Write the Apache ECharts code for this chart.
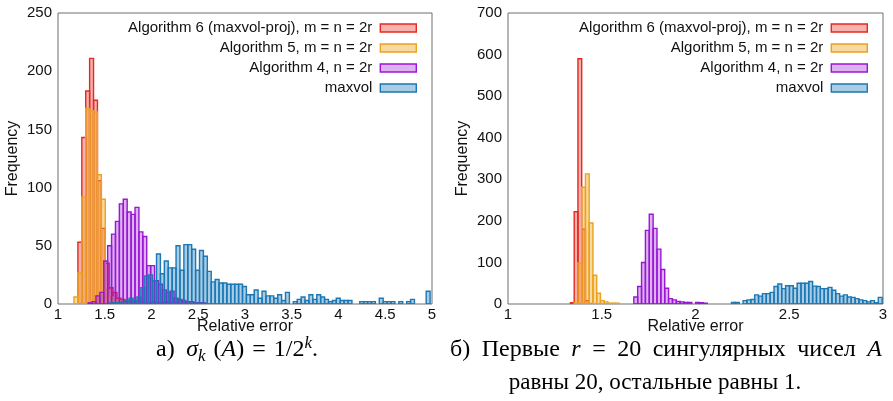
<!DOCTYPE html>
<html>
<head>
<meta charset="utf-8">
<script src="https://cdn.jsdelivr.net/npm/echarts@6/dist/echarts.min.js"></script>
<style>
  html, body { margin: 0; padding: 0; background: #fff; }
  #chart { width: 893px; height: 401px; }
</style>
</head>
<body>
<div id="chart"></div>
<script>
// ---- Histogram counts (bin start, bin width, counts per bin) ----
// (a) sigma_k(A) = 1/2^k
const aAlg6Start = 1.171, aAlg6Width = 0.0418;
const aAlg6Counts = [0, 53, 143, 183, 211, 175, 106, 65, 35, 14, 10, 5, 4, 3, 2, 2, 1, 2, 1, 1, 2, 1, 1, 2, 1, 0, 1, 0, 1];
const aAlg5Start = 1.171, aAlg5Width = 0.0418;
const aAlg5Counts = [6, 27, 92, 168, 166, 165, 111, 90, 12, 6, 4, 3, 2, 2, 1, 1, 1, 2, 1, 0, 1];
const aAlg4Start = 1.322, aAlg4Width = 0.0418;
const aAlg4Counts = [1, 2, 7, 10, 37, 50, 60, 71, 86, 90, 79, 77, 83, 62, 58, 33, 33, 20, 17, 12, 10, 11, 5, 4, 3, 2, 2, 1, 1, 1];
const aMaxvolStart = 1.552, aMaxvolWidth = 0.0418;
const aMaxvolCounts = [
  1, 1, 1, 2, 3, 5, 3, 6, 14, 24, 25, 20, 43, 26, 37, 31,
  31, 50, 29, 51, 51, 47, 29, 46, 41, 28, 19, 21, 18, 18, 17, 17,
  17, 17, 15, 8, 8, 12, 5, 11, 7, 7, 5, 8, 3, 10, 0, 2,
  4, 6, 3, 8, 4, 8, 6, 4, 2, 3, 5, 3, 3, 3, 0, 0,
  2, 2, 2, 2, 0, 5, 2, 2, 2, 0, 2, 0, 2, 4, 0, 0, 0, 11
];

// (b) first r = 20 singular values equal 20, the rest equal 1
const bAlg6Start = 1.333, bAlg6Width = 0.02;
const bAlg6Counts = [3, 222, 590, 180, 8, 1];
const bAlg5Start = 1.353, bAlg5Width = 0.02;
const bAlg5Counts = [3, 99, 281, 313, 195, 69, 26, 8, 5, 2, 2, 2];
const bAlg4Start = 1.671, bAlg4Width = 0.0206;
const bAlg4Counts = [17, 42, 100, 177, 216, 182, 132, 83, 38, 13, 10, 6, 5, 4, 4, 0, 4, 3, 2];
const bMaxvolStart = 2.192, bMaxvolWidth = 0.0206;
const bMaxvolCounts = [
  4, 4, 0, 8, 10, 11, 22, 19, 25, 25, 28, 42, 48, 37, 44, 44,
  38, 50, 50, 50, 54, 43, 42, 37, 37, 40, 33, 25, 19, 22, 17, 16,
  13, 10, 8, 5, 8, 3, 16
];

// Axis ticks
const aXTicks = { min: 1, max: 5, interval: 0.5 };
const aYTicks = { min: 0, max: 250, interval: 50 };
const bXTicks = { min: 1, max: 3, interval: 0.5 };
const bYTicks = { min: 0, max: 700, interval: 100 };

const seriesNames = [
  'Algorithm 6 (maxvol-proj), m = n = 2r',
  'Algorithm 5, m = n = 2r',
  'Algorithm 4, n = 2r',
  'maxvol'
];

// ---- Styling ----
const SANS = '"Liberation Sans", Arial, Helvetica, sans-serif';
const SERIF = '"Liberation Serif", "Times New Roman", serif';
const palette = [
  { stroke: '#e8291f', fill: 'rgba(232,41,31,0.36)' },
  { stroke: '#eca21a', fill: 'rgba(236,162,26,0.40)' },
  { stroke: '#9a16d6', fill: 'rgba(154,22,214,0.33)' },
  { stroke: '#1b78b6', fill: 'rgba(27,120,182,0.38)' }
];
const EDGE = 1.4;

function bins(start, width, counts) {
  const out = [];
  counts.forEach((c, i) => {
    if (c > 0) out.push([start + i * width, start + (i + 1) * width, c]);
  });
  return out;
}

function histSeries(name, idx, axisIdx, data) {
  const pal = palette[idx];
  return {
    type: 'custom',
    name: name,
    xAxisIndex: axisIdx,
    yAxisIndex: axisIdx,
    clip: true,
    encode: { x: [0, 1], y: 2 },
    itemStyle: { color: pal.fill, borderColor: pal.stroke, borderWidth: EDGE },
    data: data,
    renderItem: function (params, api) {
      const topLeft = api.coord([api.value(0), api.value(2)]);
      const bottomRight = api.coord([api.value(1), 0]);
      return {
        type: 'rect',
        shape: {
          x: topLeft[0], y: topLeft[1],
          width: bottomRight[0] - topLeft[0],
          height: bottomRight[1] - topLeft[1]
        },
        style: { fill: pal.fill, stroke: pal.stroke, lineWidth: EDGE }
      };
    }
  };
}

function legendFor(rightPx) {
  return {
    orient: 'vertical',
    right: rightPx,
    top: 18,
    padding: 0,
    itemGap: 0,
    itemWidth: 36,
    itemHeight: 8,
    align: 'right',
    icon: 'rect',
    selectedMode: false,
    textStyle: { fontFamily: SANS, fontSize: 15, color: '#111', lineHeight: 20, padding: [0, 3, 0, 0] },
    data: seriesNames.map((n, i) => ({
      name: n,
      itemStyle: { color: palette[i].fill, borderColor: palette[i].stroke, borderWidth: EDGE }
    }))
  };
}

function xAxisFor(gridIdx, ticks) {
  return {
    type: 'value', gridIndex: gridIdx,
    min: ticks.min, max: ticks.max, interval: ticks.interval,
    name: 'Relative error', nameLocation: 'middle', nameGap: 15, nameMoveOverlap: false,
    nameTextStyle: { fontFamily: SANS, fontSize: 16, color: '#111', verticalAlign: 'top' },
    axisLine: { show: false }, axisTick: { show: false }, splitLine: { show: false },
    axisLabel: { fontFamily: SANS, fontSize: 15, color: '#111', margin: 3 }
  };
}

function yAxisFor(gridIdx, ticks) {
  return {
    type: 'value', gridIndex: gridIdx,
    min: ticks.min, max: ticks.max, interval: ticks.interval,
    name: 'Frequency', nameLocation: 'middle', nameGap: 37, nameRotate: 90, nameMoveOverlap: false,
    nameTextStyle: { fontFamily: SANS, fontSize: 16, color: '#111' },
    axisLine: { show: false }, axisTick: { show: false }, splitLine: { show: false },
    axisLabel: { fontFamily: SANS, fontSize: 15, color: '#111', margin: 6 }
  };
}

// Caption styles
const capN = { fontFamily: SERIF, fontSize: 24, fill: '#000', lineHeight: 30 };
const capI = Object.assign({}, capN, { fontStyle: 'italic' });
const capSub = { fontFamily: SERIF, fontSize: 17, fontStyle: 'italic', fill: '#000', lineHeight: 16, verticalAlign: 'bottom' };
const capSup = { fontFamily: SERIF, fontSize: 17, fontStyle: 'italic', fill: '#000', lineHeight: 16, verticalAlign: 'top' };
const capGap = { fontFamily: SERIF, fontSize: 24, lineHeight: 30, width: 11.5 };
const capMath = { fontFamily: SERIF, fontSize: 24, lineHeight: 30, width: 8 };

const chart = echarts.init(document.getElementById('chart'), null, { renderer: 'canvas' });

chart.setOption({
  animation: false,
  backgroundColor: '#fff',
  grid: [
    { left: 58, top: 13, width: 374, height: 291, show: true, borderColor: '#6e6e6e', borderWidth: 1, backgroundColor: 'transparent' },
    { left: 508, top: 13, width: 375, height: 291, show: true, borderColor: '#6e6e6e', borderWidth: 1, backgroundColor: 'transparent' }
  ],
  xAxis: [xAxisFor(0, aXTicks), xAxisFor(1, bXTicks)],
  yAxis: [yAxisFor(0, aYTicks), yAxisFor(1, bYTicks)],
  legend: [legendFor(476), legendFor(25)],
  series: [
    histSeries(seriesNames[0], 0, 0, bins(aAlg6Start, aAlg6Width, aAlg6Counts)),
    histSeries(seriesNames[1], 1, 0, bins(aAlg5Start, aAlg5Width, aAlg5Counts)),
    histSeries(seriesNames[2], 2, 0, bins(aAlg4Start, aAlg4Width, aAlg4Counts)),
    histSeries(seriesNames[3], 3, 0, bins(aMaxvolStart, aMaxvolWidth, aMaxvolCounts)),
    histSeries(seriesNames[0], 0, 1, bins(bAlg6Start, bAlg6Width, bAlg6Counts)),
    histSeries(seriesNames[1], 1, 1, bins(bAlg5Start, bAlg5Width, bAlg5Counts)),
    histSeries(seriesNames[2], 2, 1, bins(bAlg4Start, bAlg4Width, bAlg4Counts)),
    histSeries(seriesNames[3], 3, 1, bins(bMaxvolStart, bMaxvolWidth, bMaxvolCounts))
  ],
  graphic: [
    {
      type: 'text', x: 237, y: 350,
      style: {
        text: '{n|а)}{g| }{i|σ}{sub|k}{m| }{n|(}{i|A}{n|)}{m| }{n|=}{m| }{n|1/2}{sup|k}{n|.}',
        align: 'center', verticalAlign: 'middle',
        rich: { n: capN, i: capI, sub: capSub, sup: capSup, g: capGap, m: capMath }
      }
    },
    {
      type: 'text', x: 450, y: 350,
      style: {
        text: '{n|б)}{g| }{n|Первые}{g| }{i|r}{g| }{n|=}{g| }{n|20}{g| }{n|сингулярных}{g| }{n|чисел}{g| }{i|A}',
        align: 'left', verticalAlign: 'middle',
        rich: { n: capN, i: capI, g: capGap }
      }
    },
    {
      type: 'text', x: 655, y: 383,
      style: {
        text: 'равны 20, остальные равны 1.',
        align: 'center', verticalAlign: 'middle',
        fontFamily: SERIF, fontSize: 23, fill: '#000'
      }
    }
  ]
});
</script>
</body>
</html>
